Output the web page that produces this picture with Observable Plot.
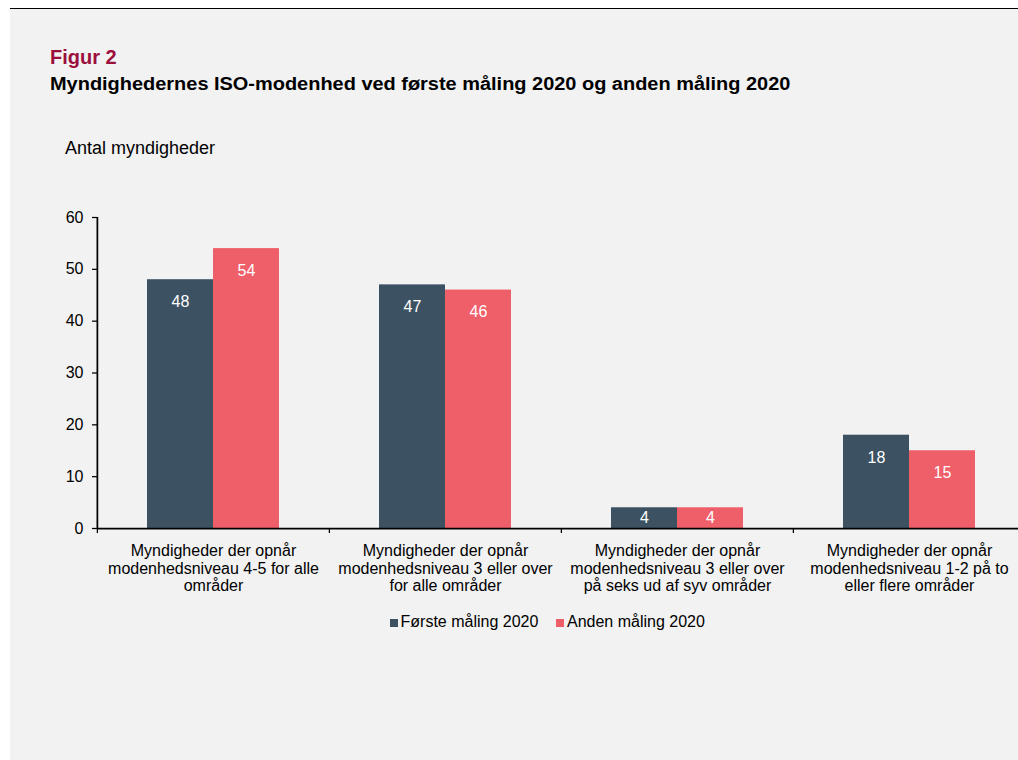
<!DOCTYPE html>
<html>
<head>
<meta charset="utf-8">
<script src="https://cdn.jsdelivr.net/npm/d3@7"></script>
<script src="https://cdn.jsdelivr.net/npm/@observablehq/plot@0.6"></script>
<style>
  html, body { margin: 0; padding: 0; background: #ffffff; }
  #page { position: relative; width: 1018px; height: 760px; overflow: hidden; font-family: "Liberation Sans", Arial, sans-serif; color: #000; }
  #bg { position: absolute; left: 10px; top: 9px; width: 1008px; height: 751px; background: #f2f2f2; }
  #topline { position: absolute; left: 10px; top: 8px; width: 1008px; height: 1px; background: #000; }
  .t { position: absolute; white-space: nowrap; line-height: 1; }
  #fig { left: 50px; top: 47.4px; font-size: 20px; font-weight: bold; color: #9c0f3c; }
  #title { left: 50px; top: 74.8px; font-size: 18px; font-weight: bold; transform: scaleX(1.108); transform-origin: 0 0; }
  #ylab { left: 65px; top: 138.8px; font-size: 18px; }
  #chart { position: absolute; left: 0; top: 0; width: 1030px; }
  #chart svg { max-width: none !important; }
  .sw { position: absolute; width: 8px; height: 8px; top: 619px; }
  .lg { position: absolute; top: 613.8px; font-size: 16px; }
</style>
</head>
<body>
<div id="page">
  <div id="bg"></div>
  <div id="topline"></div>
  <div class="t" id="fig">Figur 2</div>
  <div class="t" id="title">Myndighedernes ISO-modenhed ved første måling 2020 og anden måling 2020</div>
  <div class="t" id="ylab">Antal myndigheder</div>
  <div id="chart"></div>
  <div id="legend"></div>
</div>
<script>
const categories = [
  "Myndigheder der opnår\nmodenhedsniveau 4-5 for alle\nområder",
  "Myndigheder der opnår\nmodenhedsniveau 3 eller over\nfor alle områder",
  "Myndigheder der opnår\nmodenhedsniveau 3 eller over\npå seks ud af syv områder",
  "Myndigheder der opnår\nmodenhedsniveau 1-2 på to\neller flere områder"
];
const series = ["Første måling 2020", "Anden måling 2020"];
const foersteMaaling = [48, 47, 4, 18];
const andenMaaling = [54, 46, 4, 15];
const yTicks = [0, 10, 20, 30, 40, 50, 60];
const colors = ["#3c5263", "#ef5f69"];

const rows = [];
categories.forEach((c, i) => {
  rows.push({cat: c, series: series[0], value: foersteMaaling[i]});
  rows.push({cat: c, series: series[1], value: andenMaaling[i]});
});

const W = 1030, ML = 96, MR = 5;
const facetW = (W - ML - MR) / categories.length;

const chart = Plot.plot({
  width: W,
  height: 610,
  marginLeft: ML,
  marginRight: MR,
  marginTop: 217,
  marginBottom: 82,
  style: {fontFamily: "'Liberation Sans', Arial, sans-serif", fontSize: "16px", background: "transparent", color: "#000", overflow: "visible", maxWidth: "none"},
  fx: {domain: categories, padding: 0, label: null},
  x: {domain: series, paddingInner: 0, paddingOuter: 0.748, axis: null},
  y: {domain: [0, 60], label: null},
  color: {domain: series, range: colors},
  marks: [
    Plot.barY(rows, {fx: "cat", x: "series", y: "value", fill: "series"}),
    Plot.text(rows, {fx: "cat", x: "series", y: d => Math.max(d.value - 4.3, d.value / 2), text: d => String(d.value), fill: "white", fontSize: 16}),
    Plot.ruleY([0], {stroke: "#000", strokeWidth: 1.75}),
    Plot.ruleX([{cat: categories[0]}], {fx: "cat", x: null, y1: 0, y2: 60, dx: -facetW / 2, stroke: "#000", strokeWidth: 1.75}),
    Plot.axisY({ticks: yTicks, tickSize: 5, tickPadding: 9, label: null, fontSize: 16, strokeWidth: 1.25}),
    Plot.axisFx({anchor: "bottom", tickSize: 0, tickPadding: 15, label: null, fontSize: 16, lineHeight: 1.1}),
    Plot.axisFx({anchor: "bottom", tickSize: 5, tickFormat: null, dx: -facetW / 2, label: null, strokeWidth: 1.25})
  ]
});
document.getElementById("chart").appendChild(chart);

const legend = document.getElementById("legend");
const legendPos = [{sw: 389.5, tx: 400.5}, {sw: 555.5, tx: 567}];
series.forEach((s, i) => {
  const sw = document.createElement("div");
  sw.className = "sw";
  sw.style.left = legendPos[i].sw + "px";
  sw.style.background = colors[i];
  legend.appendChild(sw);
  const t = document.createElement("div");
  t.className = "t lg";
  t.style.left = legendPos[i].tx + "px";
  t.textContent = s;
  legend.appendChild(t);
});
</script>
</body>
</html>
